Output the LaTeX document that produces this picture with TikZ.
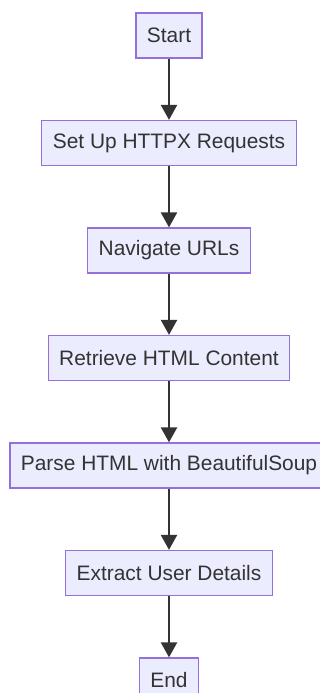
\documentclass[tikz,border=0pt]{standalone}
\usepackage{fontspec}
\setmainfont{Liberation Sans}
\usetikzlibrary{arrows.meta}
\definecolor{boxfill}{HTML}{ECECFF}
\definecolor{boxline}{HTML}{9370DB}
\definecolor{flowline}{HTML}{333333}
\tikzset{
  stepbox/.style={draw=boxline, fill=boxfill, line width=1.3pt,
    minimum height=45pt, inner xsep=11pt, inner ysep=0pt,
    font=\fontsize{20.9}{25}\selectfont, text=flowline},
  flow/.style={draw=flowline, line width=2.4pt,
    -{Triangle[length=15pt,width=16pt]}}
}
\begin{document}
\begin{tikzpicture}[x=1pt,y=-1pt]
  \useasboundingbox (0,0) rectangle (320,693);
  \clip (0,0) rectangle (320,693);
  \fill[white] (0,0) rectangle (320,693);
  \node[stepbox] (start) at (169,35.5) {Start};
  \node[stepbox] (setup) at (169,143) {Set Up HTTPX Requests};
  \node[stepbox] (nav) at (169,250.5) {Navigate URLs};
  \node[stepbox] (retr) at (169,358) {Retrieve HTML Content};
  \node[stepbox] (parse) at (169,465.5) {Parse HTML with BeautifulSoup};
  \node[stepbox] (extr) at (169,573) {Extract User Details};
  \node[stepbox] (end) at (169,680.5) {End};
  \draw[flow] (start) -- (setup);
  \draw[flow] (setup) -- (nav);
  \draw[flow] (nav) -- (retr);
  \draw[flow] (retr) -- (parse);
  \draw[flow] (parse) -- (extr);
  \draw[flow] (extr) -- (end);
\end{tikzpicture}
\end{document}
